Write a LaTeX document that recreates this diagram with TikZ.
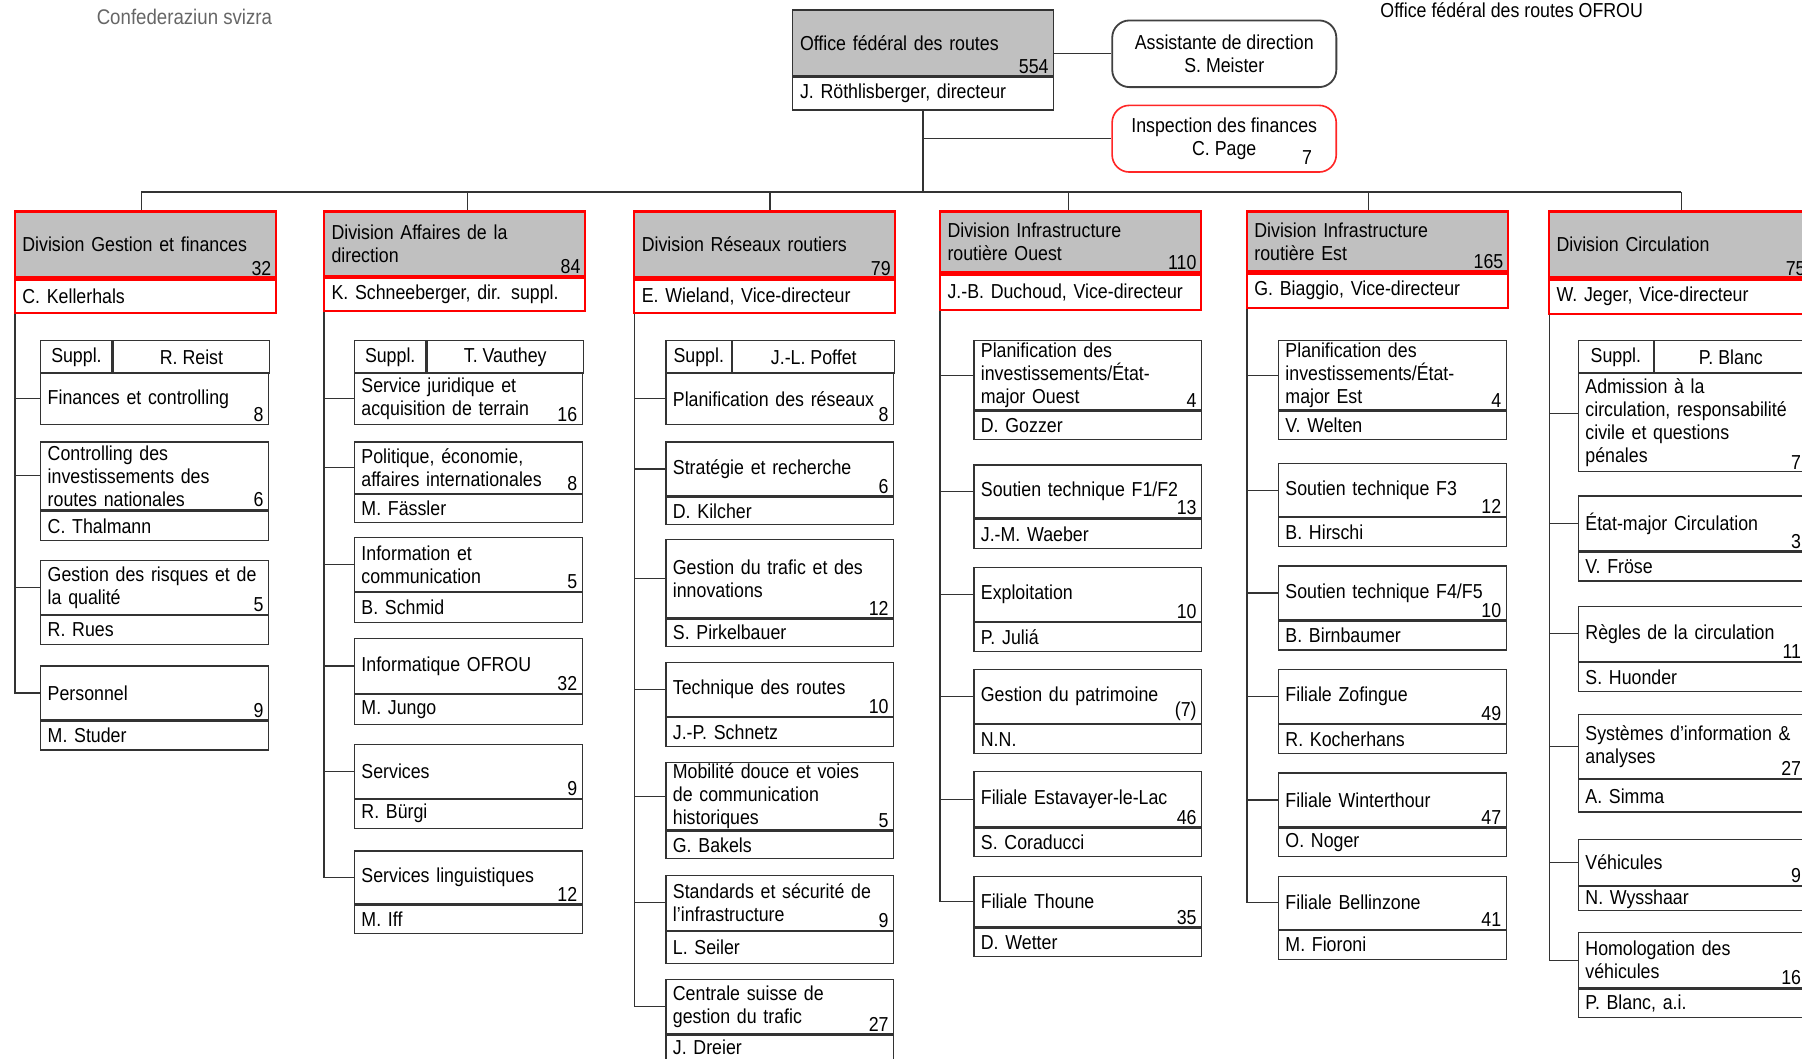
\documentclass[tikz,border=0pt]{standalone}
\usepackage{fontspec}
\setmainfont{Liberation Sans}[FakeStretch=0.88]

\definecolor{headgray}{RGB}{192,192,192}

% one unit: name, x, y of top, head height (px), person height (px), title, count, person
\newcommand{\orgunit}[8]{%
  \node[unithead, minimum height=#4*0.2mm] (#1) at (#2,#3) {#6};
  \node[count] (#1c) at (#1.south east) {#7};
  \node[unitname, minimum height=#5*0.2mm] (#1p) at (#1.south) {#8};
}

\begin{document}
\begin{tikzpicture}[
  x=0.2mm, y=-0.2mm,
  font=\fontsize{10}{11.4}\selectfont,
  link/.style={line width=0.6pt, draw=black!80},
  divhead/.style={draw=red, line width=1.1pt, fill=headgray, minimum width=45.4mm,
    text width=42.8mm, inner xsep=1.3mm, inner ysep=0.4mm, align=left, anchor=north west},
  divname/.style={draw=red, line width=1.1pt, fill=white, minimum width=45.4mm,
    text width=42.8mm, inner xsep=1.3mm, inner ysep=0.3mm, align=left, anchor=north},
  unithead/.style={draw=black!80, line width=0.6pt, fill=white, minimum width=39.6mm,
    text width=37.2mm, inner xsep=1.2mm, inner ysep=0.2mm, align=left, anchor=north west},
  unitname/.style={draw=black!80, line width=0.6pt, fill=white, minimum width=39.6mm,
    text width=37.2mm, inner xsep=1.2mm, inner ysep=0.3mm, align=left, anchor=north},
  count/.style={anchor=south east, inner xsep=0.9mm, inner ysep=0.5mm},
  supplcell/.style={draw=black!80, line width=0.6pt, fill=white, minimum height=5.6mm,
    inner sep=0pt, anchor=north west},
  sidebox/.style={rounded corners=3mm, line width=0.9pt, fill=white, minimum width=39mm,
    minimum height=11.6mm, align=center, anchor=north west}
]

\fill[white] (0,0) rectangle (1568,921);
\useasboundingbox (0,0) rectangle (1568,921);
\clip (0,0) rectangle (1568,921);

\node[anchor=west, text=black!60, font=\fontsize{10.5}{12}\selectfont] (confed) at (78,15)
  {Confederaziun svizra};
\node[anchor=west] (chart) at (1195,9) {Office fédéral des routes OFROU};

% direction
\node[divhead, draw=black!80, line width=0.7pt, minimum height=11.5mm] (office) at (689,8)
  {Office fédéral des routes};
\node[count] (officec) at (office.south east) {554};
\node[divname, draw=black!80, line width=0.7pt, minimum height=5.7mm] (officep) at (office.south)
  {J. Röthlisberger, directeur};

\node[sidebox, draw=black!75] (assist) at (967,17) {Assistante de direction\\S. Meister};
\node[sidebox, draw=red!85, line width=0.8pt] (insp) at (967,91) {Inspection des finances\\C. Page};
\node[count] (inspc) at ([xshift=-3.4mm, yshift=0.8mm]insp.south east) {7};

% divisions
\node[divhead, minimum height=11.5mm] (gf) at (12,183) {Division Gestion et finances};
\node[count] (gfc) at (gf.south east) {32};
\node[divname, minimum height=5.8mm] (gfp) at (gf.south) {C. Kellerhals};

\node[divhead, minimum height=11.2mm] (ad) at (281,183) {Division Affaires de la\\direction};
\node[count] (adc) at (ad.south east) {84};
\node[divname, minimum height=5.8mm] (adp) at (ad.south) {K. Schneeberger, dir. suppl.};

\node[divhead, minimum height=11.5mm] (rr) at (551,183) {Division Réseaux routiers};
\node[count] (rrc) at (rr.south east) {79};
\node[divname, minimum height=5.8mm] (rrp) at (rr.south) {E. Wieland, Vice-directeur};

\node[divhead, minimum height=10.6mm] (io) at (817,183) {Division Infrastructure\\routière Ouest};
\node[count] (ioc) at (io.south east) {110};
\node[divname, minimum height=6.2mm] (iop) at (io.south) {J.-B. Duchoud, Vice-directeur};

\node[divhead, minimum height=10.4mm] (ie) at (1084,183) {Division Infrastructure\\routière Est};
\node[count] (iec) at (ie.south east) {165};
\node[divname, minimum height=6mm] (iep) at (ie.south) {G. Biaggio, Vice-directeur};

\node[divhead, minimum height=11.5mm] (ci) at (1347,183) {Division Circulation};
\node[count] (cic) at (ci.south east) {75};
\node[divname, minimum height=5.9mm] (cip) at (ci.south) {W. Jeger, Vice-directeur};

% Gestion et finances
\node[supplcell, minimum width=12.4mm] (gfs) at (35,296) {Suppl.};
\node[supplcell, minimum width=27.2mm] (gfsn) at (gfs.north east) {R. Reist};
\node[unithead, minimum height=9mm] (gf1) at (35,324) {Finances et controlling};
\node[count] (gf1c) at (gf1.south east) {8};
\orgunit{gf2}{35}{384}{59}{26}{Controlling des\\investissements des\\routes nationales}{6}{C. Thalmann}
\orgunit{gf3}{35}{487}{47}{25}{Gestion des risques et de\\la qualité}{5}{R. Rues}
\orgunit{gf4}{35}{579}{47}{25}{Personnel}{9}{M. Studer}

% Affaires de la direction
\node[supplcell, minimum width=12.4mm] (ads) at (308,296) {Suppl.};
\node[supplcell, minimum width=27.2mm] (adsn) at (ads.north east) {T. Vauthey};
\node[unithead, minimum height=9mm] (ad1) at (308,324) {Service juridique et\\acquisition de terrain};
\node[count] (ad1c) at (ad1.south east) {16};
\orgunit{ad2}{308}{384}{45}{24}{Politique, économie,\\affaires internationales}{8}{M. Fässler}
\orgunit{ad3}{308}{467}{47}{26}{Information et\\communication}{5}{B. Schmid}
\orgunit{ad4}{308}{555}{48}{26}{Informatique OFROU}{32}{M. Jungo}
\orgunit{ad5}{308}{647}{47}{25}{Services}{9}{R. Bürgi}
\orgunit{ad6}{308}{740}{46}{25}{Services linguistiques}{12}{M. Iff}

% Reseaux routiers
\node[supplcell, minimum width=11.4mm] (rrs) at (579,296) {Suppl.};
\node[supplcell, minimum width=28.2mm] (rrsn) at (rrs.north east) {J.-L. Poffet};
\node[unithead, minimum height=9mm] (rr1) at (579,324) {Planification des réseaux};
\node[count] (rr1c) at (rr1.south east) {8};
\orgunit{rr2}{579}{384}{47}{24}{Stratégie et recherche}{6}{D. Kilcher}
\orgunit{rr3}{579}{469}{68}{24}{Gestion du trafic et des\\innovations}{12}{S. Pirkelbauer}
\orgunit{rr4}{579}{576}{47}{25}{Technique des routes}{10}{J.-P. Schnetz}
\orgunit{rr5}{579}{663}{56}{24}{Mobilité douce et voies\\de communication\\historiques}{5}{G. Bakels}
\orgunit{rr6}{579}{761}{48}{28}{Standards et sécurité de\\l’infrastructure}{9}{L. Seiler}
\orgunit{rr7}{579}{852}{47}{22}{Centrale suisse de\\gestion du trafic}{27}{J. Dreier}

% Infrastructure Ouest
\orgunit{io1}{847}{296}{60}{25}{Planification des\\investissements/État-\\major Ouest}{4}{D. Gozzer}
\orgunit{io2}{847}{404}{46}{26}{Soutien technique F1/F2}{13}{J.-M. Waeber}
\orgunit{io3}{847}{493}{47}{25}{Exploitation}{10}{P. Juliá}
\orgunit{io4}{847}{582}{47}{25}{Gestion du patrimoine}{(7)}{N.N.}
\orgunit{io5}{847}{671}{48}{25}{Filiale Estavayer-le-Lac}{46}{S. Coraducci}
\orgunit{io6}{847}{762}{44}{25}{Filiale Thoune}{35}{D. Wetter}

% Infrastructure Est
\orgunit{ie1}{1112}{296}{60}{25}{Planification des\\investissements/État-\\major Est}{4}{V. Welten}
\orgunit{ie2}{1112}{403}{46}{25}{Soutien technique F3}{12}{B. Hirschi}
\orgunit{ie3}{1112}{492}{47}{25}{Soutien technique F4/F5}{10}{B. Birnbaumer}
\orgunit{ie4}{1112}{582}{47}{25}{Filiale Zofingue}{49}{R. Kocherhans}
\orgunit{ie5}{1112}{672}{47}{25}{Filiale Winterthour}{47}{O. Noger}
\orgunit{ie6}{1112}{762}{46}{25}{Filiale Bellinzone}{41}{M. Fioroni}

% Circulation
\node[supplcell, minimum width=13mm] (cis) at (1373,296) {Suppl.};
\node[supplcell, minimum width=26.6mm] (cisn) at (cis.north east) {P. Blanc};
\node[unithead, minimum height=17.2mm] (ci1) at (1373,324)
  {Admission à la\\circulation, responsabilité\\civile et questions\\pénales};
\node[count] (ci1c) at (ci1.south east) {7};
\orgunit{ci2}{1373}{431}{48}{25}{État-major Circulation}{3}{V. Fröse}
\orgunit{ci3}{1373}{527}{48}{25}{Règles de la circulation}{11}{S. Huonder}
\orgunit{ci4}{1373}{621}{56}{28}{Systèmes d’information \&\\analyses}{27}{A. Simma}
\orgunit{ci5}{1373}{730}{40}{21}{Véhicules}{9}{N. Wysshaar}
\orgunit{ci6}{1373}{811}{48}{25}{Homologation des\\véhicules}{16}{P. Blanc, a.i.}

% links
\coordinate (d-gf) at (123,167);
\coordinate (d-ad) at (407,167);
\coordinate (d-rr) at (670,167);
\coordinate (d-io) at (930,167);
\coordinate (d-ie) at (1191,167);
\coordinate (d-ci) at (1463,167);

\draw[link] (office.east |- assist.west) -- (assist.west);
\draw[link] (officep.south) |- (insp.west);
\draw[link] (officep.south) -- (officep.south |- d-gf);
\draw[link] (d-gf) -- (d-ci);
\foreach \d in {gf,ad,rr,io,ie,ci}
  \draw[link] (d-\d) -- (d-\d |- \d.north);

\foreach \u in {gf1,gf2,gf3,gf4}
  \draw[link] ([xshift=0.2mm]gfp.south west) |- (\u.west);
\foreach \u in {ad1,ad2,ad3,ad4,ad5,ad6}
  \draw[link] ([xshift=0.2mm]adp.south west) |- (\u.west);
\foreach \u in {rr1,rr2,rr3,rr4,rr5,rr6,rr7}
  \draw[link] ([xshift=0.2mm]rrp.south west) |- (\u.west);
\foreach \u in {io1,io2,io3,io4,io5,io6}
  \draw[link] ([xshift=0.2mm]iop.south west) |- (\u.west);
\foreach \u in {ie1,ie2,ie3,ie4,ie5,ie6}
  \draw[link] ([xshift=0.2mm]iep.south west) |- (\u.west);
\draw[link] ([xshift=0.2mm]cip.south west) |- ([yshift=1.5mm]ci1.west);
\foreach \u in {ci2,ci3,ci4,ci5,ci6}
  \draw[link] ([xshift=0.2mm]cip.south west) |- (\u.west);

\end{tikzpicture}
\end{document}
